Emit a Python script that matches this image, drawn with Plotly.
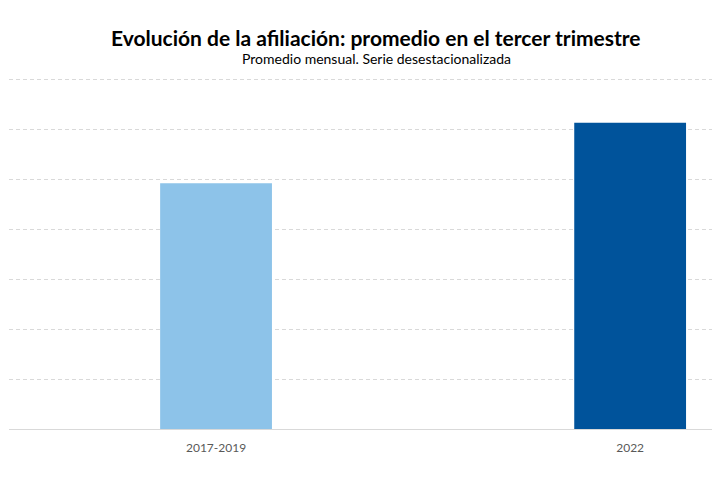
import plotly.graph_objects as go

categories = ["2017-2019", "2022"]
values = [4.93, 6.14]
bar_colors = ["#8DC3E9", "#00539B"]

title_text = "<b>Evolución de la afiliación: promedio en el tercer trimestre</b>"
subtitle_text = "Promedio mensual. Serie desestacionalizada"

# The page body has an 8px margin, so the figure is drawn at (8, 8).
OFF = 8
W, H = 720 - OFF, 480 - OFF
L, R, T, B = 9 - OFF, 0, 80 - OFF - 5, 51
plot_w = W - L - R
plot_h = H - T - B

def px(x):
    return (x - OFF - L) / plot_w

def py(y):
    return (H - B - (y - OFF)) / plot_h

fig = go.Figure()
fig.add_trace(go.Bar(
    x=[0, 1], y=values,
    marker=dict(color=bar_colors, line=dict(width=0)),
    width=0.27,
    hoverinfo="y",
))

fig.update_layout(
    width=W, height=H,
    margin=dict(l=L, r=R, t=T, b=B, autoexpand=False),
    paper_bgcolor="white", plot_bgcolor="white",
    showlegend=False,
    font=dict(family="Lato, Open Sans, sans-serif", color="#595959"),
    annotations=[
        dict(text=title_text, x=px(376), y=py(37), xref="paper", yref="paper",
             xanchor="center", yanchor="middle", showarrow=False,
             font=dict(size=21, color="#000000", family="Lato, sans-serif")),
        dict(text=subtitle_text, x=px(376), y=py(58), xref="paper", yref="paper",
             xanchor="center", yanchor="middle", showarrow=False,
             font=dict(size=14, color="#000000", family="Lato, sans-serif")),
    ],
)

fig.update_xaxes(
    range=[-0.5, 1.217],
    tickmode="array", tickvals=[0, 1], ticktext=categories,
    showgrid=False, zeroline=False,
    showline=True, linecolor="#D9D9D9", linewidth=1,
    ticks="", tickfont=dict(size=12, color="#595959"),
    ticklabelstandoff=8,
)
fig.update_yaxes(
    range=[0, 7.1], dtick=1, tick0=0,
    showgrid=True, gridcolor="#D9D9D9", gridwidth=1, griddash="4px,3px",
    zeroline=False, showticklabels=False, ticks="",
)

fig.write_html("out.html")
